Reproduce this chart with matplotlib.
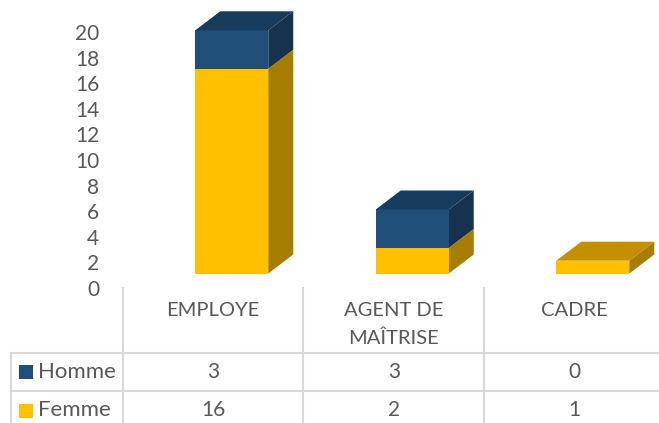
import matplotlib
matplotlib.use('Agg')
import matplotlib.pyplot as plt
from matplotlib.patches import Polygon, Rectangle

plt.rcParams['font.family'] = ['Lato', 'DejaVu Sans']

categories = ['EMPLOYE', 'AGENT DE\nMAÎTRISE', 'CADRE']
homme = [3, 3, 0]
femme = [16, 2, 1]
yticks = list(range(0, 21, 2))

W, H = 659, 423
GREY = '#595959'
LINE = '#D9D9D9'

# pixel scale of the plot
x0_px, cat_px = 123, 180.5
y0_px, val_px = 288, 12.8

fig = plt.figure(figsize=(W / 100, H / 100), dpi=100)
ax = fig.add_axes([x0_px / W, 1 - y0_px / H, (W - x0_px) / W, y0_px / H])
ax.set_xlim(-0.5, -0.5 + (W - x0_px) / cat_px)
ax.set_ylim(0, y0_px / val_px)
for s in ax.spines.values():
    s.set_visible(False)


def xpx(px):
    return -0.5 + (px - x0_px) / cat_px


def ypx(py):
    return (y0_px - py) / val_px


# 3d look of the columns
bar_w = 73 / cat_px
shift = 18.5 / cat_px
depth_x = 25 / cat_px
depth_y = 19 / val_px
lift = 14.5 / val_px


def box(i, bottom, value, front, side, top=None):
    left = i + shift - bar_w / 2
    right = left + bar_w
    y1 = lift + bottom
    y2 = y1 + value
    ax.add_patch(Polygon([(right, y1), (right + depth_x, y1 + depth_y),
                          (right + depth_x, y2 + depth_y), (right, y2)],
                         fc=side, ec='none', zorder=2))
    ax.add_patch(Rectangle((left, y1), bar_w, value, fc=front, ec='none', zorder=3))
    if top:
        ax.add_patch(Polygon([(left, y2), (left + depth_x, y2 + depth_y),
                              (right + depth_x, y2 + depth_y), (right, y2)],
                             fc=top, ec='none', zorder=4))


for i in range(len(categories)):
    if femme[i] > 0:
        box(i, 0, femme[i], '#FFC000', '#A67D00', None if homme[i] > 0 else '#C49000')
    if homme[i] > 0:
        box(i, femme[i], homme[i], '#1F4E79', '#16324F', '#173C5E')

# axis labels
ax.set_yticks(yticks)
ax.tick_params(axis='y', length=0, pad=17, labelsize=15, labelcolor=GREY)
ax.set_xticks(range(len(categories)))
ax.set_xticklabels(categories, fontsize=14.5, color=GREY, linespacing=1.75)
ax.tick_params(axis='x', length=0, pad=10)

# data table under the chart
table_v = [123, 303, 484]
for px in table_v:
    ax.plot([xpx(px)] * 2, [ypx(288), ypx(H)], color=LINE, lw=1.5, clip_on=False)
ax.plot([xpx(10.5)] * 2, [ypx(352.5), ypx(H)], color=LINE, lw=1.5, clip_on=False)
for py in [352.5, 391]:
    ax.plot([xpx(10.5), xpx(W)], [ypx(py)] * 2, color=LINE, lw=1.5, clip_on=False)

rows = [('Homme', homme, '#1F4E79', 372), ('Femme', femme, '#FFC000', 410.5)]
for name, vals, col, py in rows:
    ax.add_patch(Rectangle((xpx(19), ypx(py + 7)), 14 / cat_px, 14 / val_px,
                           fc=col, ec='none', clip_on=False))
    ax.text(xpx(38), ypx(py), name, fontsize=16, color=GREY, ha='left', va='center', clip_on=False)
    for i, v in enumerate(vals):
        ax.text(i, ypx(py), str(v), fontsize=15, color=GREY, ha='center', va='center', clip_on=False)

fig.savefig('out.png', dpi=100)
